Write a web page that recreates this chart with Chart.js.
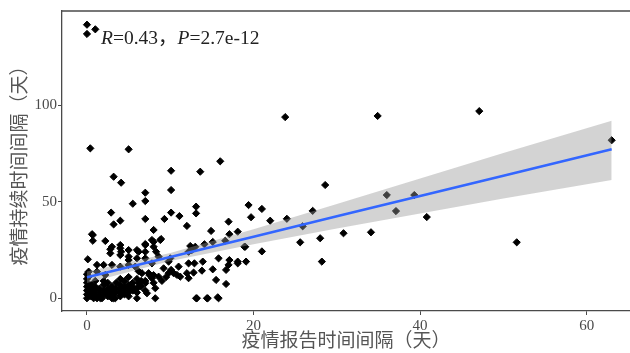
<!DOCTYPE html>
<html>
<head>
<meta charset="utf-8">
<script src="https://cdn.jsdelivr.net/npm/chart.js@4/dist/chart.umd.min.js"></script>
<style>
  html, body { margin: 0; padding: 0; background: #fff; }
  #wrap { width: 630px; height: 353px; }
</style>
</head>
<body>
<div id="wrap"><canvas id="scatter" width="630" height="353"></canvas></div>
<script>
// report interval (days) vs. outbreak duration (days)
var reportGap = [
    0.0, 1.0, 0.0, 23.8, 34.9, 47.1, 63.0,
    0.4, 5.0, 3.2, 4.1, 10.1, 10.1, 13.6, 16.0,
    5.5, 7.0, 7.0, 2.9, 3.2, 4.0, 7.0, 8.0, 9.3, 10.1, 11.1, 12.0, 13.1, 13.1,
    14.9, 17.0, 18.1, 19.4, 19.7, 21.0, 22.0, 0.6,
    24.0, 28.6, 27.1, 36.0, 39.3, 37.1, 40.8, 25.9, 25.6, 28.0, 30.8, 34.1, 28.2, 51.6,
    21.0, 19.0, 19.1, 18.1,
    17.1, 16.6, 15.1, 13.0, 14.1, 18.9, 12.4, 15.8, 17.1, 17.0, 18.1, 12.9, 13.9,
    13.8, 12.8, 15.1, 15.5, 16.7, 13.2, 14.4, 15.7, 16.7,
    7.8, 8.8, 7.0, 8.0, 12.2, 6.2, 6.0, 7.0, 7.8, 8.6, 9.8, 11.0, 12.2, 6.2, 6.6,
    7.4, 7.8, 8.6, 9.2, 9.8, 10.4, 10.8, 11.2, 12.0, 12.2, 6.2, 7.0, 8.2, 7.2, 8.2, 6.0,
    0.1, 0.7, 0.7, 2.2, 2.8, 4.0, 4.1, 5.0, 7.0, 8.0, 8.9, 7.0, 8.3, 10.0, 10.1, 12.6,
    3.0, 4.0, 5.0, 6.0, 2.8, 4.0, 5.0, 1.2, 2.0, 3.0, 4.0, 5.0, 5.8, 0.2, 0.2, 1.2, 2.2,
    0.0, 0.0, 0.0, 0.0, 0.0, 0.0, 0.5, 0.5, 0.5, 0.5, 0.8, 1.0, 1.0, 1.0, 1.0, 1.2,
    1.5, 1.5, 1.5, 1.8, 2.0, 2.0, 2.0, 2.0, 2.5, 2.5, 2.5, 2.5, 3.0, 3.0, 3.0, 3.0,
    3.2, 3.4, 3.5, 3.5, 3.5, 4.0, 4.0, 4.0, 4.0, 4.0, 4.5, 4.5, 4.5, 4.5, 5.0, 5.0,
    5.0, 5.0, 5.0, 5.5, 5.5, 5.5, 6.0, 6.0, 6.0, 6.5, 6.5, 7.0, 7.0, 7.5, 8.0, 8.0,
    9.0, 9.5, 0.0, 0.7, 1.6, 13.1, 14.5, 15.8
];
var duration = [
    141.8, 139.4, 137.0, 93.9, 94.5, 97.0, 81.9,
    77.7, 77.2, 63.0, 59.9, 66.1, 56.1, 65.6, 71.0,
    49.0, 50.4, 54.7, 44.4, 38.3, 40.2, 41.1, 35.4, 41.1, 44.4, 42.6, 37.5, 47.5, 44.0,
    34.9, 39.7, 34.5, 48.3, 42.0, 46.3, 40.2, 33.2,
    41.2, 58.7, 45.3, 53.5, 53.5, 45.2, 42.1, 37.3, 29.0, 31.1, 33.7, 34.2, 19.0, 29.0,
    24.3, 26.7, 19.0, 19.0,
    33.2, 29.8, 29.2, 26.7, 28.0, 26.7, 27.1, 20.7, 19.8, 17.3, 18.1, 18.1, 19.0,
    14.3, 13.3, 15.0, 9.5, 7.4, 0.0, 0.0, 0.5, 14.7,
    30.2, 30.2, 27.6, 26.7, 24.1, 24.1, 20.7, 20.7, 18.1, 21.6, 19.0, 16.4, 18.1, 14.0, 13.0,
    13.0, 10.4, 11.2, 15.5, 13.0, 13.0, 12.1, 11.2, 13.0, 10.4, 7.8, 7.8, 5.2, 2.6, 0.0, 0.0,
    20.2, 32.8, 29.8, 29.7, 25.4, 27.6, 24.1, 19.8, 28.1, 29.3, 30.7, 24.1, 24.1, 20.7, 14.7, 25.0,
    26.7, 25.9, 25.0, 25.0, 23.3, 22.4, 21.6, 17.3, 17.3, 17.3, 16.4, 17.3, 16.4, 13.8, 11.2, 13.8, 12.1,
    0.0, 2.0, 4.0, 6.0, 8.0, 10.0, 1.0, 3.0, 5.0, 7.0, 0.0, 2.0, 4.0, 6.0, 9.0, 0.0,
    1.0, 3.0, 5.0, 0.0, 2.0, 4.0, 7.0, 9.0, 1.0, 3.0, 5.0, 8.0, 0.0, 2.0, 4.0, 6.0,
    0.0, 0.0, 3.0, 5.0, 8.0, 1.0, 3.0, 5.0, 7.0, 10.0, 2.0, 4.0, 6.0, 9.0, 1.0, 3.0,
    5.0, 7.0, 11.0, 4.0, 6.0, 8.0, 3.0, 5.0, 10.0, 6.0, 9.0, 4.0, 9.0, 12.0, 8.0, 12.0,
    9.0, 11.0, 12.5, 1.5, 0.0, 0.0, 0.0, 0.0
];

// fitted line and its confidence band, read at a few x positions
var fitX = [0, 10, 20, 30, 40, 50, 63];
var fitY = [10.9, 21.4, 31.9, 42.5, 53.0, 63.5, 77.2];
var bandHigh = [13.9, 23.5, 35.8, 48.9, 62.1, 75.3, 92.0];
var bandLow = [7.9, 19.3, 28.0, 36.1, 43.9, 51.7, 61.3];

var xTicks = [0, 20, 40, 60];
var yTicks = [0, 50, 100];

var xTitle = "疫情报告时间间隔（天）";
var yTitle = "疫情持续时间间隔（天）";
var statParts = [["R", true], ["=0.43，", false], ["P", true], ["=2.7e-12", false]];

function pairs(xs, ys) {
    return xs.map(function(x, i) { return {x: x, y: ys[i]}; });
}

var serif = "'Liberation Serif', 'Noto Sans CJK SC', serif";
var axisColor = "#4a4a4a";

// top frame line and the R / P note in the upper left corner
var frameAndNote = {
    id: 'frameAndNote',
    afterDraw: function(chart) {
        var c = chart.ctx, a = chart.chartArea;
        c.save();
        c.strokeStyle = axisColor;
        c.lineWidth = 1.3;
        c.beginPath();
        c.moveTo(a.left, a.top);
        c.lineTo(chart.width, a.top);
        c.stroke();

        var x = a.left + 39, y = a.top + 33;
        c.fillStyle = "#222";
        c.textBaseline = "alphabetic";
        statParts.forEach(function(p) {
            c.font = (p[1] ? "italic " : "") + "19.5px " + serif;
            c.fillText(p[0], x, y);
            x += c.measureText(p[0]).width;
        });
        c.restore();
    }
};

var ctx = document.getElementById("scatter").getContext("2d");
var myChart = new Chart(ctx, {
    type: 'scatter',
    data: {
        datasets: [
            {
                type: 'line',
                data: pairs(fitX, fitY),
                borderColor: "#3366ff",
                borderWidth: 2.5,
                pointRadius: 0,
                fill: false,
                order: 0
            },
            {
                type: 'line',
                data: pairs(fitX, bandHigh),
                borderWidth: 0,
                borderColor: "rgba(0,0,0,0)",
                pointRadius: 0,
                backgroundColor: "rgba(150,150,150,0.42)",
                fill: '+1',
                order: 1
            },
            {
                type: 'line',
                data: pairs(fitX, bandLow),
                borderWidth: 0,
                borderColor: "rgba(0,0,0,0)",
                pointRadius: 0,
                fill: false,
                order: 1
            },
            {
                data: pairs(reportGap, duration),
                pointStyle: 'rectRot',
                pointRadius: 3.6,
                pointBorderWidth: 1,
                backgroundColor: "#000",
                borderColor: "#000",
                order: 2
            }
        ]
    },
    options: {
        responsive: false,
        animation: false,
        devicePixelRatio: 1,
        layout: { autoPadding: false, padding: { left: 0, right: 0, top: 11, bottom: 0 } },
        plugins: {
            legend: { display: false },
            tooltip: { enabled: false }
        },
        scales: {
            x: {
                type: 'linear',
                min: -3,
                max: 65.2,
                afterBuildTicks: function(scale) {
                    scale.ticks = xTicks.map(function(v) { return {value: v}; });
                },
                afterFit: function(scale) {
                    scale.height = 42;
                    scale.paddingLeft = 0;
                    scale.paddingRight = 0;
                },
                grid: { drawOnChartArea: false, tickLength: 4, color: axisColor },
                border: { color: axisColor, width: 1.3 },
                ticks: { padding: 2, color: axisColor, font: { family: serif, size: 15 } },
                title: {
                    display: true,
                    text: xTitle,
                    color: "#555",
                    padding: { top: 0, bottom: 0 },
                    font: { family: serif, size: 19 }
                }
            },
            y: {
                type: 'linear',
                min: -6.6,
                max: 148.9,
                afterBuildTicks: function(scale) {
                    scale.ticks = yTicks.map(function(v) { return {value: v}; });
                },
                afterFit: function(scale) { scale.width = 62; },
                grid: { drawOnChartArea: false, tickLength: 4, color: axisColor },
                border: { color: axisColor, width: 1.3 },
                ticks: { padding: 1, color: axisColor, font: { family: serif, size: 15 } },
                title: {
                    display: true,
                    text: yTitle,
                    color: "#555",
                    padding: { top: 10, bottom: 0 },
                    font: { family: serif, size: 19 }
                }
            }
        }
    },
    plugins: [frameAndNote]
});
</script>
</body>
</html>
